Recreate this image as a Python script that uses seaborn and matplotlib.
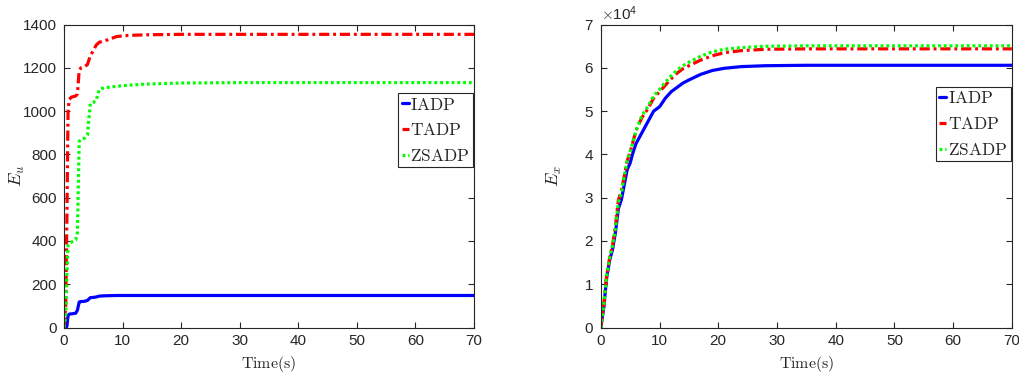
import matplotlib
matplotlib.use("Agg")
import matplotlib.pyplot as plt
import seaborn as sns
import pandas as pd
from matplotlib.ticker import ScalarFormatter

# ---------------------------------------
# data
# ---------------------------------------
t_u = [0, 0.3, 0.5, 0.7, 0.9, 1.3, 2.0, 2.3, 2.6, 2.9, 3.5, 4.0, 4.5, 5.0, 5.5,
       6.0, 6.5, 7.5, 9, 11, 14, 20, 30, 45, 70]
eu_iadp = [0, 0, 5, 55, 62, 63, 66, 80, 118, 120, 121, 125, 138, 139, 141,
           145, 146, 147, 148, 148, 148, 148, 148, 148, 148]
eu_tadp = [0, 100, 500, 1000, 1055, 1065, 1070, 1080, 1190, 1200, 1205, 1215, 1255, 1280, 1305,
           1318, 1322, 1330, 1345, 1350, 1353, 1355, 1355, 1355, 1355]
eu_zsadp = [0, 60, 250, 380, 390, 395, 405, 440, 860, 870, 875, 890, 1035, 1040, 1050,
            1098, 1105, 1110, 1115, 1120, 1125, 1130, 1132, 1132, 1132]

t_x = [0, 0.5, 1, 1.5, 2, 2.5, 3, 3.5, 4, 4.5, 5, 5.5, 6, 7, 8, 9, 10, 11, 12, 13,
       14, 15, 17, 19, 21, 24, 28, 35, 45, 70]
ex_iadp = [0, 4500, 11500, 15500, 18000, 22000, 27500, 29500, 33000, 36500, 38000, 40500, 42500,
           45000, 47500, 50000, 51000, 53000, 54500, 55500, 56500, 57200, 58500, 59400, 59900,
           60300, 60500, 60600, 60600, 60600]
ex_tadp = [0, 5000, 12000, 16000, 19000, 23500, 29500, 31500, 35000, 38500, 40500, 43000, 45500,
           48500, 50500, 53000, 54500, 56000, 57500, 58800, 59800, 60500, 61800, 62800, 63500,
           64000, 64300, 64400, 64400, 64400]
ex_zsadp = [0, 5000, 12000, 16000, 19000, 23000, 29000, 31000, 35000, 38500, 40500, 43000, 45500,
            49000, 51000, 53500, 55000, 56700, 58200, 59500, 60500, 61300, 62700, 63700, 64300,
            64700, 65000, 65100, 65100, 65100]

labels = ["IADP", "TADP", "ZSADP"]
colors = ["#0000ff", "#ff0000", "#00ff00"]
styles = [(None, None), (3.2, 1.2, 0.9, 1.2), (0.9, 0.9)]

sns.set_style("ticks")
plt.rcParams["font.family"] = ["Liberation Sans", "DejaVu Sans"]
plt.rcParams["mathtext.fontset"] = "cm"
plt.rcParams["axes.edgecolor"] = "#262626"
plt.rcParams["xtick.color"] = "#262626"
plt.rcParams["ytick.color"] = "#262626"


def make_df(t, series):
    rows = []
    for lab, vals in zip(labels, series):
        for tt, v in zip(t, vals):
            rows.append({"t": tt, "v": v, "method": lab})
    return pd.DataFrame(rows)


def draw(ax, df):
    for lab, col, dash in zip(labels, colors, styles):
        sub = df[df["method"] == lab]
        sns.lineplot(data=sub, x="t", y="v", ax=ax, color=col, lw=2.3, label=r"$\mathrm{%s}$" % lab)
        if dash[0] is not None:
            ax.lines[-1].set_dashes(dash)
    ax.set_xlim(0, 70)
    ax.set_xticks(range(0, 71, 10))
    ax.tick_params(direction="in", top=True, right=True, labelsize=11, length=4, width=0.8, pad=5)
    for s in ax.spines.values():
        s.set_linewidth(0.8)
    ax.set_xlabel(r"$\mathrm{Time(s)}$", fontsize=11.5, color="#262626", labelpad=4)


fig = plt.figure(figsize=(10.2, 3.81), dpi=100)
ax1 = fig.add_axes([0.0627, 0.1404, 0.402, 0.795])
ax2 = fig.add_axes([0.589, 0.1404, 0.403, 0.795])

draw(ax1, make_df(t_u, [eu_iadp, eu_tadp, eu_zsadp]))
ax1.set_ylim(0, 1400)
ax1.set_yticks(range(0, 1401, 200))
ax1.set_ylabel(r"$E_u$", fontsize=13, color="#262626", labelpad=-3)

draw(ax2, make_df(t_x, [ex_iadp, ex_tadp, ex_zsadp]))
ax2.set_ylim(0, 70000)
ax2.set_yticks(range(0, 70001, 10000))
fmt = ScalarFormatter(useMathText=True)
fmt.set_powerlimits((4, 4))
ax2.yaxis.set_major_formatter(fmt)
ax2.yaxis.get_offset_text().set_fontsize(11)
ax2.set_ylabel(r"$E_x$", fontsize=13, color="#262626", labelpad=14)

for ax, top in [(ax1, 0.774), (ax2, 0.794)]:
    leg = ax.legend(loc="upper right", bbox_to_anchor=(0.998, top), borderaxespad=0,
                    fontsize=12.5, handlelength=0.4, handletextpad=0.1, borderpad=0.2,
                    labelspacing=0.55, fancybox=False, framealpha=1, edgecolor="#262626")
    leg.get_frame().set_linewidth(0.8)

fig.savefig("out.png", dpi=100)
